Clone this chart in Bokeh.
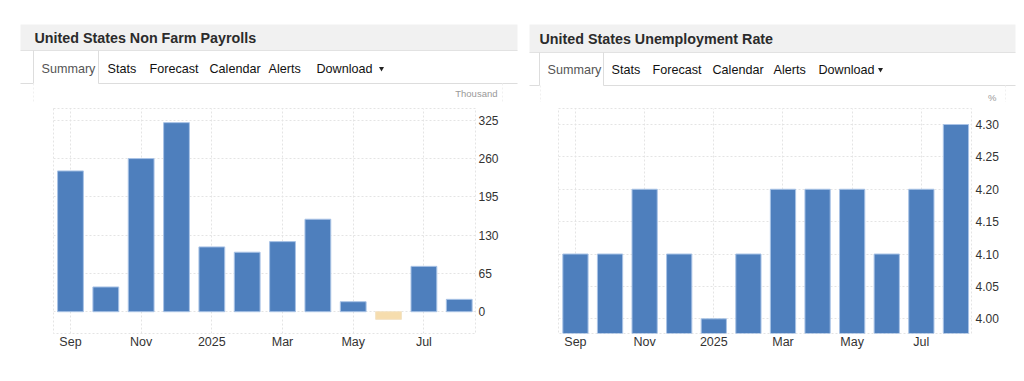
from bokeh.plotting import figure
from bokeh.models import Range1d, FixedTicker, Label, NumeralTickFormatter, ColumnDataSource
from bokeh.layouts import column, row
from bokeh.embed import file_html
from bokeh.resources import INLINE

# ---- data ----
months = ["Sep", "Oct", "Nov", "Dec", "Jan", "Feb", "Mar", "Apr", "May", "Jun", "Jul", "Aug"]
axis_labels = ["Sep", "", "Nov", "", "2025", "", "Mar", "", "May", "", "Jul", ""]
payrolls = [239, 42, 260, 321, 110, 101, 119, 157, 17, -13, 77, 21]
unemployment = [4.1, 4.1, 4.2, 4.1, 4.0, 4.1, 4.2, 4.2, 4.2, 4.1, 4.2, 4.3]
payroll_ticks = [0, 65, 130, 195, 260, 325]
unemp_ticks = [4.00, 4.05, 4.10, 4.15, 4.20, 4.25, 4.30]
tabs = ["Summary", "Stats", "Forecast", "Calendar", "Alerts", "Download"]
titles = ["United States Non Farm Payrolls", "United States Unemployment Rate"]
units = ["Thousand", "%"]

FONT = "Liberation Sans"
BLUE = "#4e7fbd"
EDGE = "#a9c3e6"
NEG = "#f6ddae"

HDR_H = 102

# ---- header (drawn in page pixel coordinates) ----
hdr = figure(width=1024, height=HDR_H, x_range=Range1d(0, 1024), y_range=Range1d(HDR_H, 0),
             output_backend="svg", toolbar_location=None, x_axis_type=None, y_axis_type=None,
             min_border=0, outline_line_color=None, title=None)
hdr.grid.visible = False

panels = [
    dict(bx0=20, bx1=517, by0=24, by1=50, tx=34, ty=37, tab0=33, tab1=98, tabb=83, texty=68,
         tab_x=[41, 107, 149, 209, 268, 316], caret=380, ux=497, uy=93, vl=33, vr=502),
    dict(bx0=529, bx1=1015, by0=24, by1=52, tx=539, ty=38, tab0=539, tab1=603, tabb=85, texty=69,
         tab_x=[547, 611, 652, 712, 773, 818], caret=879, ux=996, uy=97, vl=540, vr=1005),
]
for i, pn in enumerate(panels):
    hdr.quad(left=pn["bx0"], right=pn["bx1"], top=pn["by0"], bottom=pn["by1"],
             fill_color="#f1f1f1", line_color=None)
    hdr.segment(x0=pn["bx0"], y0=pn["by1"], x1=pn["bx1"], y1=pn["by1"], line_color="#e2e2e2", line_width=1)
    # tab underline
    hdr.segment(x0=[pn["bx0"], pn["tab1"]], y0=[pn["tabb"]] * 2, x1=[pn["tab0"], pn["bx1"]],
                y1=[pn["tabb"]] * 2, line_color="#dddddd", line_width=1)
    # summary tab box
    hdr.segment(x0=[pn["tab0"], pn["tab1"]], y0=[pn["by1"]] * 2, x1=[pn["tab0"], pn["tab1"]],
                y1=[pn["tabb"]] * 2, line_color="#dddddd", line_width=1)
    # faint panel borders
    hdr.segment(x0=[pn["vl"], pn["vr"]], y0=[pn["tabb"]] * 2, x1=[pn["vl"], pn["vr"]],
                y1=[HDR_H, HDR_H], line_color="#f0f0f0", line_width=1, line_dash="2 2")
    hdr.add_layout(Label(x=pn["tx"], y=pn["ty"], text=titles[i], text_font=FONT,
                         text_font_size="14.3px", text_font_style="bold", text_color="#2b2b2b",
                         text_baseline="middle"))
    for j, t in enumerate(tabs):
        hdr.add_layout(Label(x=pn["tab_x"][j], y=pn["texty"], text=t, text_font=FONT,
                             text_font_size="12.6px", text_color="#555555" if j == 0 else "#111111",
                             text_baseline="middle"))
    hdr.scatter(x=[pn["caret"] + 1], y=[pn["texty"]], marker="inverted_triangle", size=5,
                fill_color="#222222", line_color=None)
    hdr.add_layout(Label(x=pn["ux"], y=pn["uy"], text=units[i], text_font=FONT,
                         text_font_size="9.5px", text_color="#999999", text_align="right",
                         text_baseline="middle"))


def make_chart(values, width, height, xr, yr, ticks, borders, bottom, standoff, fmt=None):
    p = figure(width=width, height=height, x_range=Range1d(*xr), y_range=Range1d(*yr),
               output_backend="svg", toolbar_location=None, y_axis_location="right", title=None,
               min_border_left=borders[0], min_border_right=borders[1],
               min_border_top=borders[2], min_border_bottom=borders[3],
               outline_line_color="#e4e4e4", outline_line_dash="2 2")
    xs = list(range(len(months)))
    colors = [NEG if v < 0 else BLUE for v in values]
    edges = ["#f3e3c4" if v < 0 else EDGE for v in values]
    src = ColumnDataSource(dict(x=xs, top=values, color=colors, edge=edges, month=months))
    p.vbar(x="x", top="top", bottom=bottom, width=0.73, fill_color="color",
           line_color="edge", line_width=1, source=src)
    xt = [i for i, l in enumerate(axis_labels) if l]
    p.xaxis.ticker = FixedTicker(ticks=xt)
    p.xaxis.major_label_overrides = {i: axis_labels[i] for i in xt}
    p.yaxis.ticker = FixedTicker(ticks=ticks)
    if fmt:
        p.yaxis.formatter = NumeralTickFormatter(format=fmt)
    for ax in (p.xaxis, p.yaxis):
        ax.axis_line_color = None
        ax.major_tick_line_color = None
        ax.minor_tick_line_color = None
        ax.major_tick_out = 0
        ax.major_tick_in = 0
        ax.minor_tick_out = 0
        ax.minor_tick_in = 0
        ax.major_label_text_font = FONT
        ax.major_label_text_color = "#333333"
    p.xaxis.major_label_text_font_size = "12.5px"
    p.yaxis.major_label_text_font_size = "12px"
    p.xaxis.major_label_standoff = 1
    p.yaxis.major_label_standoff = standoff
    p.xgrid.ticker = FixedTicker(ticks=xt)
    p.grid.grid_line_color = "#e4e4e4"
    p.grid.grid_line_dash = "2 2"
    return p


p1 = make_chart(payrolls, 520, 271, (-0.48, 11.46), (-37, 345), payroll_ticks, (53, 45, 6, 40), 0, 3)
p2 = make_chart(unemployment, 504, 271, (-0.49, 11.45), (3.9773, 4.3247), unemp_ticks, (38, 53, 6, 40),
                3.9773, 4, fmt="0.00")

layout = column(hdr, row(p1, p2))
open("out.html", "w").write(file_html(layout, INLINE))
